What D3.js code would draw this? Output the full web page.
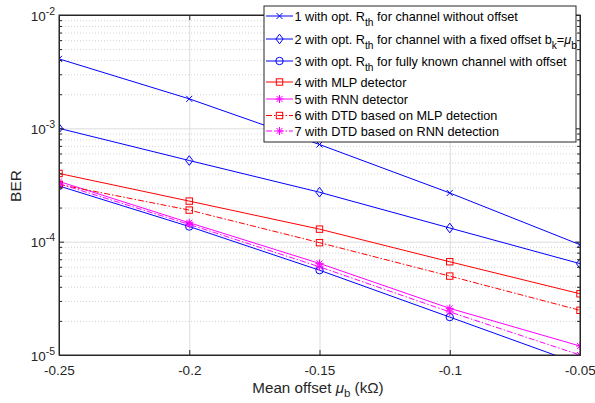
<!DOCTYPE html>
<html>
<head>
<meta charset="utf-8">
<script src="https://cdn.jsdelivr.net/npm/d3@7"></script>
<style>
  html, body { margin: 0; padding: 0; background: #fff; }
  svg { display: block; font-family: "Liberation Sans", Arial, Helvetica, sans-serif; }
</style>
</head>
<body>
<svg id="chart" width="595" height="403"></svg>
<script>
// Mean offset values (kΩ) on the x axis
const offsets = [-0.25, -0.2, -0.15, -0.1, -0.05];

// BER curves, one array per detector
const berNoOffset   = [4.1e-3, 1.82e-3, 7.2e-4, 2.69e-4, 9.4e-5];
const berFixedOff   = [1.0e-3, 5.2e-4, 2.73e-4, 1.32e-4, 6.4e-5];
const berKnownChan  = [3.1e-4, 1.36e-4, 5.6e-5, 2.16e-5, 8.3e-6];
const berMLP        = [4.0e-4, 2.28e-4, 1.29e-4, 6.65e-5, 3.47e-5];
const berRNN        = [3.4e-4, 1.47e-4, 6.43e-5, 2.58e-5, 1.2e-5];
const berDtdMLP     = [3.2e-4, 1.9e-4, 9.8e-5, 4.97e-5, 2.48e-5];
const berDtdRNN     = [3.25e-4, 1.42e-4, 6.0e-5, 2.4e-5, 1.0e-5];

// Tick values
const xTicks = [-0.25, -0.2, -0.15, -0.1, -0.05];
const xTickLabels = ["-0.25", "-0.2", "-0.15", "-0.1", "-0.05"];
const yTicks = [1e-5, 1e-4, 1e-3, 1e-2];
const yTickExponents = ["-5", "-4", "-3", "-2"];

// Legend labels: segments of [text, isSubscript]
const legendLabels = [
  [["1 with opt. R", false], ["th", true], [" for channel without offset", false]],
  [["2 with opt. R", false], ["th", true], [" for channel with a fixed offset b", false], ["k", true], ["=\u03bc", false], ["b", true]],
  [["3 with opt. R", false], ["th", true], [" for fully known channel with offset", false]],
  [["4 with MLP detector", false]],
  [["5 with RNN detector", false]],
  [["6 with DTD based on MLP detection", false]],
  [["7 with DTD based on RNN detection", false]]
];

const series = [
  { values: berNoOffset,  color: "#0000ff", marker: "x",       dash: null },
  { values: berFixedOff,  color: "#0000ff", marker: "diamond", dash: null },
  { values: berKnownChan, color: "#0000ff", marker: "circle",  dash: null },
  { values: berMLP,       color: "#ff0000", marker: "square",  dash: null },
  { values: berRNN,       color: "#ff00ff", marker: "star",    dash: null },
  { values: berDtdMLP,    color: "#ff0000", marker: "square",  dash: "6,2,1.5,2" },
  { values: berDtdRNN,    color: "#ff00ff", marker: "star",    dash: "6,2,1.5,2" }
];

const svg = d3.select("#chart");
const L = 59, R = 580, T = 15, B = 355;

const x = d3.scaleLinear().domain([-0.25, -0.05]).range([L, R]);
const y = d3.scaleLog().domain([1e-5, 1e-2]).range([B, T]);

// minor decade ticks 2..9
const minorTicks = [];
for (let e = -5; e < -2; e++) {
  for (let m = 2; m <= 9; m++) minorTicks.push(m * Math.pow(10, e));
}

svg.append("defs").append("clipPath").attr("id", "plotClip")
  .append("rect").attr("x", L).attr("y", T).attr("width", R - L).attr("height", B - T);

// Grid
const grid = svg.append("g");
grid.append("g").attr("transform", `translate(0,${B})`)
  .call(d3.axisBottom(x).tickValues(xTicks).tickSize(-(B - T)).tickFormat(""))
  .call(g => g.select(".domain").remove())
  .call(g => g.selectAll("line").attr("stroke", "#dcdcdc").attr("stroke-width", 1));
grid.append("g").attr("transform", `translate(${L},0)`)
  .call(d3.axisLeft(y).tickValues(minorTicks).tickSize(-(R - L)).tickFormat(""))
  .call(g => g.select(".domain").remove())
  .call(g => g.selectAll("line").attr("stroke", "#c8c8c8").attr("stroke-width", 0.8).attr("stroke-dasharray", "1,2"));
grid.append("g").attr("transform", `translate(${L},0)`)
  .call(d3.axisLeft(y).tickValues(yTicks).tickSize(-(R - L)).tickFormat(""))
  .call(g => g.select(".domain").remove())
  .call(g => g.selectAll("line").attr("stroke", "#dcdcdc").attr("stroke-width", 1));

// Markers
function drawMarker(g, type, color, cx, cy) {
  const s = g.append("g").attr("transform", `translate(${cx},${cy})`)
    .attr("fill", "none").attr("stroke", color).attr("stroke-width", 1);
  if (type === "x") {
    s.append("path").attr("d", "M-3,-3L3,3M-3,3L3,-3");
  } else if (type === "diamond") {
    s.append("path").attr("d", "M0,-4.8L3.6,0L0,4.8L-3.6,0Z");
  } else if (type === "circle") {
    s.append("circle").attr("r", 3.7);
  } else if (type === "square") {
    s.append("rect").attr("x", -3.2).attr("y", -3.2).attr("width", 6.4).attr("height", 6.4);
  } else if (type === "star") {
    s.append("path").attr("d", "M0,-4L0,4M-4,0L4,0M-3,-3L3,3M-3,3L3,-3");
  }
}

const plot = svg.append("g").attr("clip-path", "url(#plotClip)");
const line = d3.line().x((d, i) => x(offsets[i])).y(d => y(d));
series.forEach(sr => {
  plot.append("path").datum(sr.values)
    .attr("d", line).attr("fill", "none")
    .attr("stroke", sr.color).attr("stroke-width", 1)
    .attr("stroke-dasharray", sr.dash);
  sr.values.forEach((v, i) => {
    if (v >= 1e-5) drawMarker(plot, sr.marker, sr.color, x(offsets[i]), y(v));
  });
});

// Axes (box with inward ticks)
const axisColor = "#262626";
function styleAxis(g) {
  g.select(".domain").attr("stroke", axisColor).attr("stroke-width", 1);
  g.selectAll(".tick line").attr("stroke", axisColor);
}
svg.append("g").attr("transform", `translate(0,${B})`)
  .call(d3.axisBottom(x).tickValues(xTicks).tickSizeInner(-5).tickSizeOuter(0).tickPadding(10)
    .tickFormat((d, i) => xTickLabels[i]))
  .call(styleAxis)
  .call(g => g.selectAll("text").attr("font-size", 13.5).attr("fill", "#262626")
    .attr("font-family", "Liberation Sans, Arial, sans-serif"));
svg.append("g").attr("transform", `translate(0,${T})`)
  .call(d3.axisTop(x).tickValues(xTicks).tickSizeInner(-5).tickSizeOuter(0).tickFormat(""))
  .call(styleAxis);
svg.append("g").attr("transform", `translate(${L},0)`)
  .call(d3.axisLeft(y).tickValues(minorTicks).tickSizeInner(-3).tickSizeOuter(0).tickFormat(""))
  .call(styleAxis);
svg.append("g").attr("transform", `translate(${R},0)`)
  .call(d3.axisRight(y).tickValues(minorTicks).tickSizeInner(-3).tickSizeOuter(0).tickFormat(""))
  .call(styleAxis);
svg.append("g").attr("transform", `translate(${R},0)`)
  .call(d3.axisRight(y).tickValues(yTicks).tickSizeInner(-5).tickSizeOuter(0).tickFormat(""))
  .call(styleAxis);
const yAxis = svg.append("g").attr("transform", `translate(${L},0)`)
  .call(d3.axisLeft(y).tickValues(yTicks).tickSizeInner(-5).tickSizeOuter(0).tickFormat(""))
  .call(styleAxis);
yAxis.selectAll(".tick").each(function (d, i) {
  const t = d3.select(this).append("text")
    .attr("x", -4).attr("y", 5)
    .attr("text-anchor", "end").attr("fill", "#262626")
    .attr("font-size", 13.5);
  t.append("tspan").text("10");
  t.append("tspan").attr("dy", -6).attr("font-size", 10.5).text(yTickExponents[i]);
});
// box edges
svg.append("rect").attr("x", L).attr("y", T).attr("width", R - L).attr("height", B - T)
  .attr("fill", "none").attr("stroke", axisColor).attr("stroke-width", 1);

// Axis titles
svg.append("text").attr("transform", `translate(21,186) rotate(-90)`)
  .attr("text-anchor", "middle").attr("font-size", 15.5).attr("fill", "#262626").text("BER");
const xt = svg.append("text").attr("x", 318).attr("y", 393)
  .attr("text-anchor", "middle").attr("font-size", 15.2).attr("fill", "#262626");
xt.append("tspan").text("Mean offset ");
xt.append("tspan").attr("font-style", "italic").text("\u03bc");
xt.append("tspan").attr("dy", 4).attr("font-size", 11.5).text("b");
xt.append("tspan").attr("dy", -4).text(" (k\u03a9)");

// Legend
const lg = svg.append("g");
lg.append("rect").attr("x", 264).attr("y", 6).attr("width", 312).attr("height", 136)
  .attr("fill", "#fff").attr("stroke", "#262626").attr("stroke-width", 1);
const rowY = [16, 39, 61, 82, 99, 115.5, 131];
series.forEach((sr, i) => {
  const yy = rowY[i];
  lg.append("line").attr("x1", 266).attr("x2", 293).attr("y1", yy).attr("y2", yy)
    .attr("stroke", sr.color).attr("stroke-width", 1).attr("stroke-dasharray", sr.dash);
  drawMarker(lg, sr.marker, sr.color, 279.5, yy);
  const t = lg.append("text").attr("x", 294.5).attr("y", yy + 4.5)
    .attr("font-size", 12.7).attr("fill", "#000");
  let sub = false;
  legendLabels[i].forEach(([txt, isSub]) => {
    const ts = t.append("tspan").text(txt);
    if (isSub && !sub) { ts.attr("dy", 5).attr("font-size", 10.2); sub = true; }
    else if (!isSub && sub) { ts.attr("dy", -5); sub = false; }
    else if (isSub) ts.attr("font-size", 10.2);
    if (txt.startsWith("=\u03bc")) {
      ts.text("=");
      t.append("tspan").attr("font-style", "italic").text("\u03bc");
    }
  });
});
</script>
</body>
</html>
